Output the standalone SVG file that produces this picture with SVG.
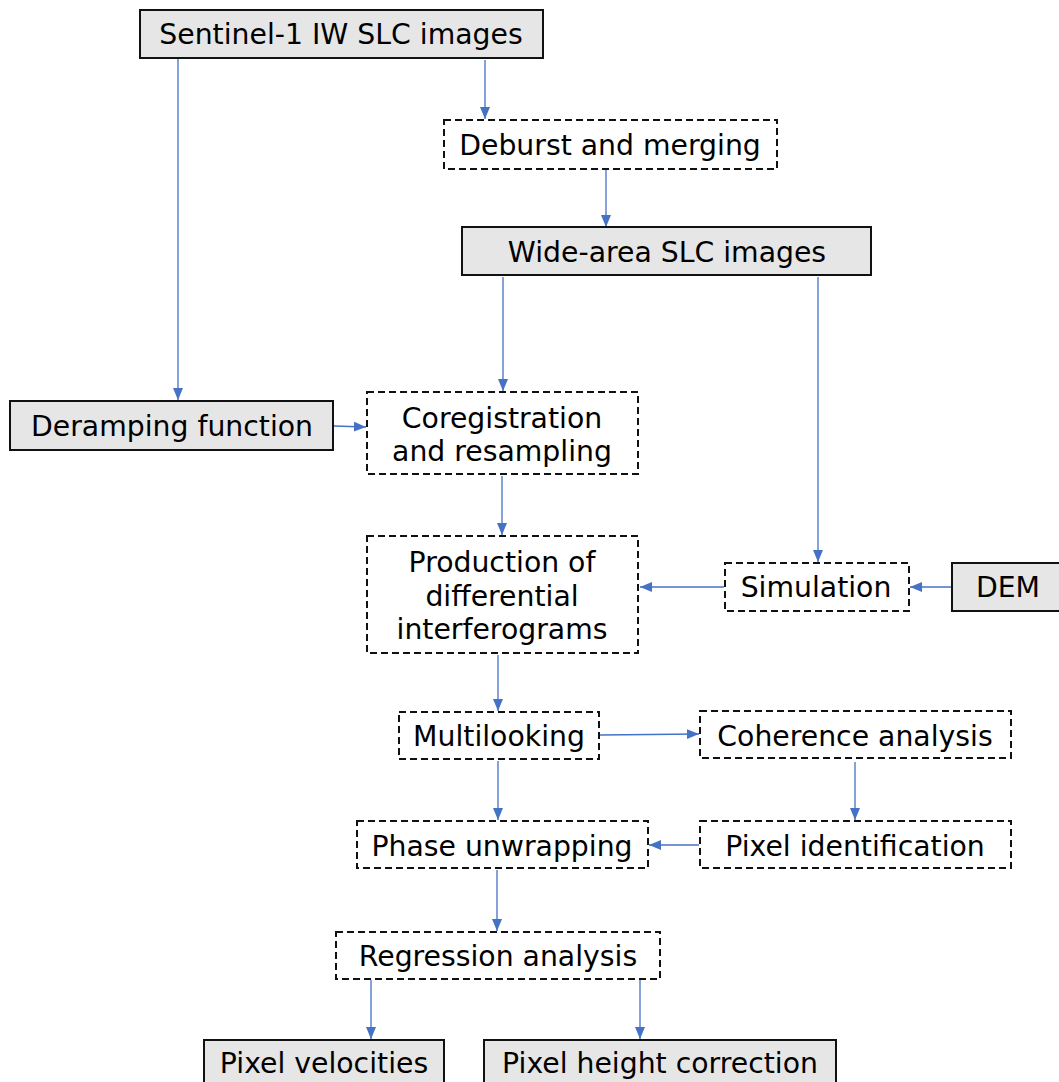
<svg xmlns="http://www.w3.org/2000/svg" width="1059" height="1082" viewBox="0 0 1059 1082">
<style>
.solid{fill:#e6e6e6;stroke:#111;stroke-width:2}
.dash{fill:#fff;stroke:#111;stroke-width:2;stroke-dasharray:7 4}
text{font-family:"DejaVu Sans",Verdana,sans-serif;font-size:28.3px;fill:#000;text-anchor:middle;dominant-baseline:central}
.c{fill:none;stroke:#4472C4;stroke-width:1.3}
</style>
<defs>
<marker id="ah" markerUnits="userSpaceOnUse" markerWidth="13" markerHeight="13" viewBox="0 0 13 13" refX="12" refY="6.5" orient="auto">
<path d="M0,1.5 L12,6.5 L0,11.5 Z" fill="#4472C4"/>
</marker>
</defs>
<rect width="1059" height="1082" fill="#fff"/>
<g id="connectors">
<line class="c" x1="178" y1="59" x2="178" y2="400" marker-end="url(#ah)"/>
<line class="c" x1="485" y1="60" x2="485" y2="119" marker-end="url(#ah)"/>
<line class="c" x1="606" y1="170" x2="606" y2="227" marker-end="url(#ah)"/>
<line class="c" x1="503" y1="277" x2="503" y2="391" marker-end="url(#ah)"/>
<line class="c" x1="818" y1="277" x2="818" y2="562" marker-end="url(#ah)"/>
<line class="c" x1="334" y1="426" x2="366" y2="427" marker-end="url(#ah)"/>
<line class="c" x1="502" y1="476" x2="502" y2="535" marker-end="url(#ah)"/>
<line class="c" x1="724" y1="587" x2="640" y2="587" marker-end="url(#ah)"/>
<line class="c" x1="952" y1="587" x2="910" y2="587" marker-end="url(#ah)"/>
<line class="c" x1="498" y1="655" x2="498" y2="711" marker-end="url(#ah)"/>
<line class="c" x1="600" y1="735" x2="699" y2="734" marker-end="url(#ah)"/>
<line class="c" x1="498" y1="761" x2="498" y2="820" marker-end="url(#ah)"/>
<line class="c" x1="855" y1="762" x2="855" y2="820" marker-end="url(#ah)"/>
<line class="c" x1="699" y1="845" x2="649" y2="845" marker-end="url(#ah)"/>
<line class="c" x1="497" y1="870" x2="497" y2="931" marker-end="url(#ah)"/>
<line class="c" x1="371" y1="980" x2="371" y2="1039" marker-end="url(#ah)"/>
<line class="c" x1="640" y1="980" x2="640" y2="1039" marker-end="url(#ah)"/>
</g>
<g id="n-sentinel"><rect class="solid" x="140" y="10" width="403" height="48"/><text x="341" y="34">Sentinel-1 IW SLC images</text></g>
<g id="n-deburst"><rect class="dash" x="444" y="120" width="333" height="49"/><text x="610" y="145">Deburst and merging</text></g>
<g id="n-widearea"><rect class="solid" x="462" y="227" width="409" height="48"/><text x="667" y="252">Wide-area SLC images</text></g>
<g id="n-deramping"><rect class="solid" x="10" y="401" width="323" height="49"/><text x="172" y="426">Deramping function</text></g>
<g id="n-coreg"><rect class="dash" x="367" y="392" width="271" height="82"/><text x="502" y="418">Coregistration</text><text x="502" y="451">and resampling</text></g>
<g id="n-production"><rect class="dash" x="367" y="536" width="271" height="117"/><text x="502" y="562">Production of</text><text x="502" y="596">differential</text><text x="502" y="629">interferograms</text></g>
<g id="n-simulation"><rect class="dash" x="725" y="563" width="184" height="48"/><text x="816" y="587">Simulation</text></g>
<g id="n-dem"><rect class="solid" x="952" y="563" width="120" height="48"/><text x="1008" y="587">DEM</text></g>
<g id="n-multilooking"><rect class="dash" x="399" y="712" width="200" height="47"/><text x="499" y="736">Multilooking</text></g>
<g id="n-coherence"><rect class="dash" x="700" y="711" width="311" height="47"/><text x="855" y="736">Coherence analysis</text></g>
<g id="n-phase"><rect class="dash" x="357" y="821" width="291" height="47"/><text x="502" y="846">Phase unwrapping</text></g>
<g id="n-pixelid"><rect class="dash" x="700" y="821" width="311" height="47"/><text x="855" y="846">Pixel identification</text></g>
<g id="n-regression"><rect class="dash" x="336" y="932" width="324" height="47"/><text x="498" y="956">Regression analysis</text></g>
<g id="n-velocities"><rect class="solid" x="204" y="1040" width="240" height="60"/><text x="324" y="1063">Pixel velocities</text></g>
<g id="n-height"><rect class="solid" x="484" y="1040" width="352" height="60"/><text x="660" y="1063">Pixel height correction</text></g>
</svg>
